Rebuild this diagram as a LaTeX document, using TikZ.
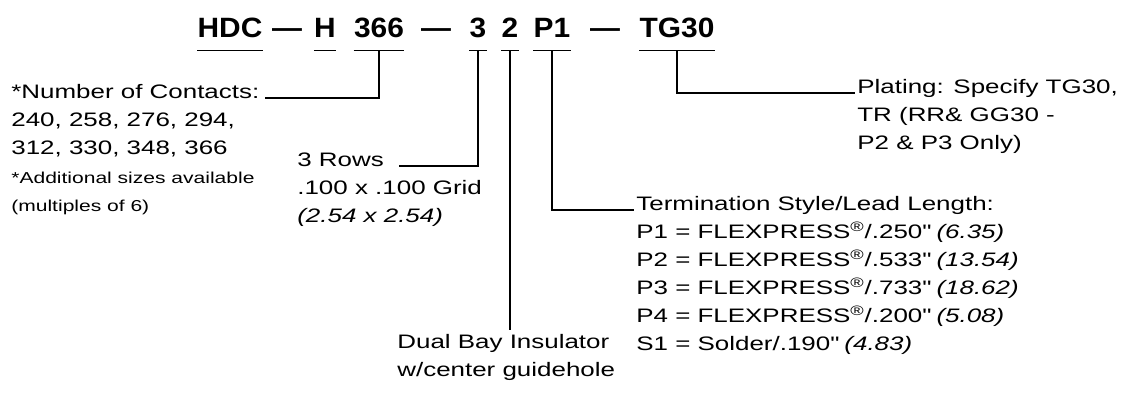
\documentclass[tikz,border=0pt]{standalone}
\usepackage{fontspec}
\setmainfont{Liberation Sans}[FakeStretch=1.33]
\newfontfamily\codefont{Liberation Sans}[FakeStretch=1.07]
\usetikzlibrary{positioning}

\begin{document}
\begin{tikzpicture}[x=0.02cm, y=-0.02cm,
    code/.style={font=\codefont\bfseries\fontsize{15.9}{18}\selectfont, inner xsep=0pt, inner ysep=0.24cm, anchor=base},
    txt/.style={font=\fontsize{11.1}{15.9}\selectfont, inner sep=0pt, align=left, anchor=base west},
    note/.style={font=\fontsize{9}{15.9}\selectfont, inner sep=0pt, align=left, anchor=base west},
    uline/.style={line width=0.9pt},
    lead/.style={line width=0.7pt}
  ]
  \useasboundingbox (0,0) rectangle (1131,395);
  % part number
  \node[code] (hdc)   at (230,38) {HDC};
  \node[code] (dashA) at (287,38) {—};
  \node[code] (hh)    at (325,38) {H};
  \node[code] (cnt)   at (379,38) {366};
  \node[code] (dashB) at (436,38) {—};
  \node[code] (rw)    at (478,38) {3};
  \node[code] (bay)   at (510,38) {2};
  \node[code] (term)  at (552,38) {P1};
  \node[code] (dashC) at (605,38) {—};
  \node[code] (plat)  at (677,38) {TG30};
  \foreach \n in {hdc,hh,cnt,rw,bay,term,plat}
    \draw[uline] (\n.south west) -- (\n.south east);
  % descriptions (base of a multi-line node = its last line)
  \node[txt]  (ncont)     at (11,98)   {*Number of Contacts:};
  \node[txt]  (counts)    at (11,154)  {240, 258, 276, 294,\\312, 330, 348, 366};
  \node[note] (extra)     at (11,211)  {*Additional sizes available\\(multiples of 6)};
  \node[txt]  (rowhead)   at (297,166) {3 Rows};
  \node[txt]  (grid)      at (297,222) {.100 x .100 Grid\\\textit{(2.54 x 2.54)}};
  \node[txt]  (dual)      at (397,376) {Dual Bay Insulator\\w/center guidehole};
  \node[txt]  (termhead)  at (636,210) {Termination Style/Lead Length:};
  \node[txt]  (leads)     at (636,350) {%
    P1 = FLEXPRESS\textsuperscript{®}/.250\textquotedbl{} \textit{(6.35)}\\
    P2 = FLEXPRESS\textsuperscript{®}/.533\textquotedbl{} \textit{(13.54)}\\
    P3 = FLEXPRESS\textsuperscript{®}/.733\textquotedbl{} \textit{(18.62)}\\
    P4 = FLEXPRESS\textsuperscript{®}/.200\textquotedbl{} \textit{(5.08)}\\
    S1 = Solder/.190\textquotedbl{} \textit{(4.83)}};
  \node[txt]  (platehead) at (857,93)  {Plating: Specify TG30,};
  \node[txt]  (platetxt)  at (857,149) {TR (RR\& GG30 -\\P2 \& P3 Only)};
  % leaders
  \draw[lead, shorten >=1mm] (cnt.south) |- (ncont.base east);
  \draw[lead, shorten >=3mm] (rw.south) |- (rowhead.base east);
  \draw[lead] (bay.south) -- (bay.south |- 0,330);
  \draw[lead, shorten >=0.4mm] (term.south) |- (termhead.base west);
  \draw[lead, shorten >=0.4mm] (plat.south) |- (platehead.base west);
\end{tikzpicture}
\end{document}
